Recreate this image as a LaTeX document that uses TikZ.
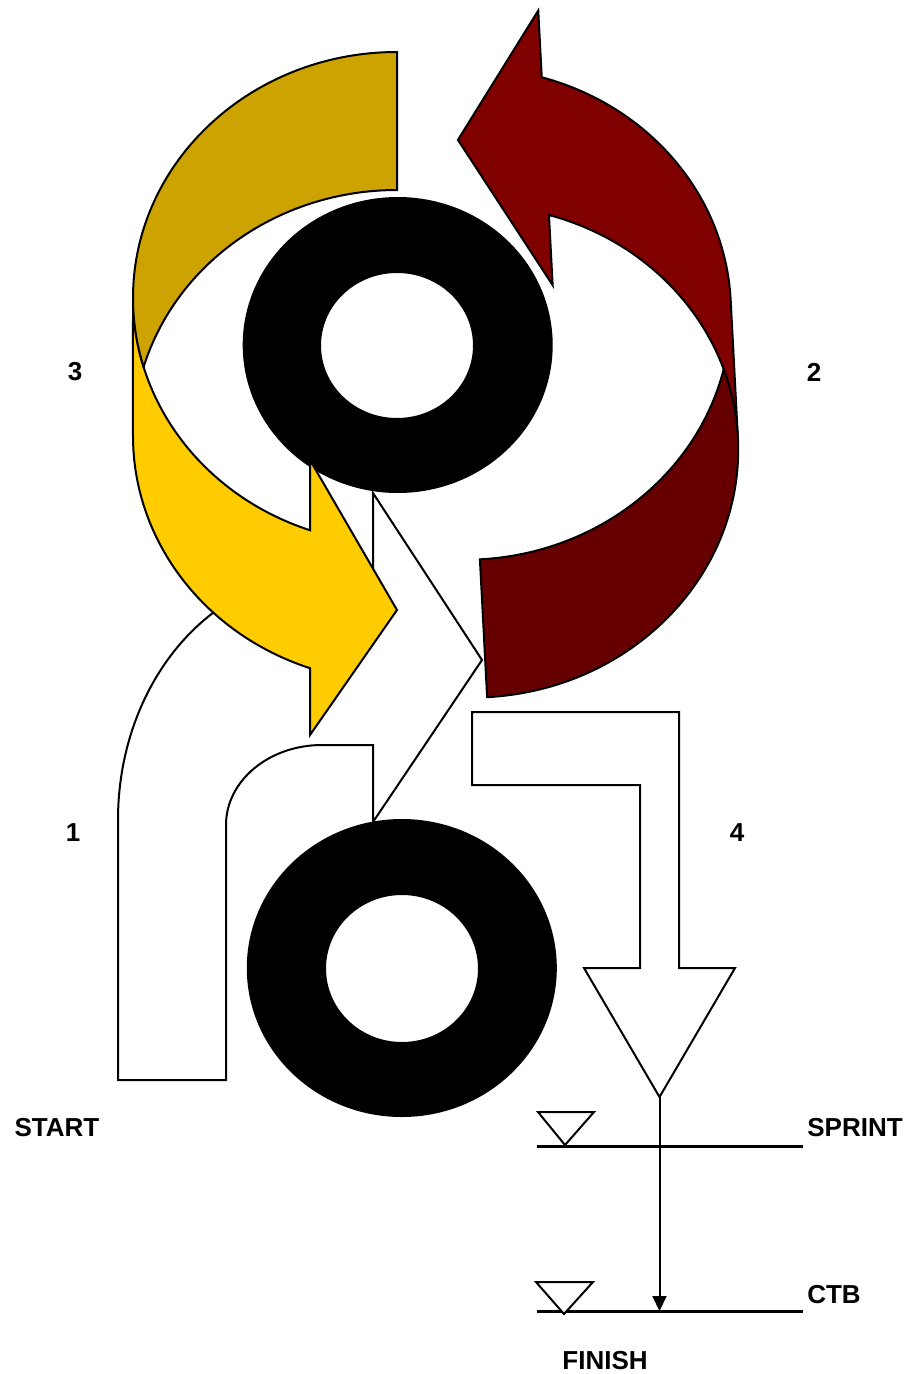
\documentclass[tikz,border=0pt]{standalone}
\usepackage{fontspec}
\setmainfont{Liberation Sans}
\usetikzlibrary{arrows.meta}
\definecolor{ylwfront}{HTML}{FFCC00}
\definecolor{ylwback}{HTML}{CCA300}
\definecolor{redfront}{HTML}{800000}
\definecolor{redback}{HTML}{660000}
\tikzset{
  outline/.style={draw=black, line width=2pt, line join=miter},
  ring/.style={fill=black, even odd rule},
  lbl/.style={inner sep=0pt, anchor=center, font=\fontsize{26}{30}\selectfont\bfseries},
  level/.style={line width=3pt},
  marker/.style={draw=black, line width=2pt, fill=white},
  flow/.style={line width=2pt, -{Triangle[length=15pt,width=14pt]}, shorten >=-1pt}
}
% curved arrow: front band and back band (pixel coordinates, y downwards)
\newcommand{\frontband}[1]{%
  \path[outline, fill=#1] (133,298)
    arc[start angle=180, end angle=109.24, x radius=264, y radius=246]
    -- (310,460) -- (397,610) -- (310,735) -- (310,668.2)
    arc[start angle=109.24, end angle=180, x radius=264, y radius=246]
    -- cycle;}
\newcommand{\backband}[1]{%
  \path[outline, fill=#1] (133,298)
    arc[start angle=180, end angle=270, x radius=264, y radius=246]
    -- (397,190)
    arc[start angle=270, end angle=196.29, x radius=264, y radius=246]
    arc[start angle=163.71, end angle=180, x radius=264, y radius=246]
    -- cycle;}
\begin{document}
\begin{tikzpicture}[x=1pt, y=-1pt]
\useasboundingbox (0,0) rectangle (906,1374);

% white bent arrow (1)
\path[outline, fill=white] (118,1080) -- (118,820)
  arc[start angle=180, end angle=270, x radius=204, y radius=245]
  -- (373,575) -- (373,493) -- (482,660) -- (373,822) -- (373,745) -- (322,745)
  arc[start angle=270, end angle=180, x radius=96, y radius=80]
  -- (226,1080) -- cycle;

% top ring
\path[ring] (397.7,345) ellipse[x radius=155, y radius=148]
            (397,345.5) ellipse[x radius=76, y radius=72.5];

% yellow curved arrow (3)
\frontband{ylwfront}
\backband{ylwback}

% red curved arrow (2)
\begin{scope}[shift={(886.3,728.3)}, rotate=183]
  \frontband{redfront}
  \backband{redback}
\end{scope}

% bottom ring
\path[ring] (401.8,968) ellipse[x radius=155, y radius=149]
            (402,968.5) ellipse[x radius=76, y radius=73.5];

% white bent-down arrow (4)
\path[outline, fill=white] (472,712) -- (679,712) -- (679,968) -- (735,968)
  -- (659.5,1097) -- (584,968) -- (640,968) -- (640,785) -- (472,785) -- cycle;

% level lines and markers
\coordinate (sprintL) at (537,1146);
\coordinate (sprintR) at (803,1146);
\coordinate (ctbL) at (537,1311);
\coordinate (ctbR) at (803,1311);
\draw[level] (sprintL) -- (sprintR);
\draw[level] (ctbL) -- (ctbR);
\path[marker] (538,1112) -- (594,1112) -- (565,1145) -- cycle;
\path[marker] (536,1282) -- (593,1282) -- (564,1314) -- cycle;

% flow arrow
\coordinate (tip4) at (659.5,1097);
\coordinate (ctbhit) at (659.5,1310);
\draw[flow] (tip4) -- (ctbhit);

% labels
\node[lbl] (l3) at (75,372) {3};
\node[lbl] (l2) at (814,372) {2};
\node[lbl] (l1) at (73,833) {1};
\node[lbl] (l4) at (737,833) {4};
\node[lbl] (start) at (57,1128) {START};
\node[lbl] (sprint) at (855,1128) {SPRINT};
\node[lbl] (ctb) at (834,1295) {CTB};
\node[lbl] (finish) at (605,1361) {FINISH};
\end{tikzpicture}
\end{document}
